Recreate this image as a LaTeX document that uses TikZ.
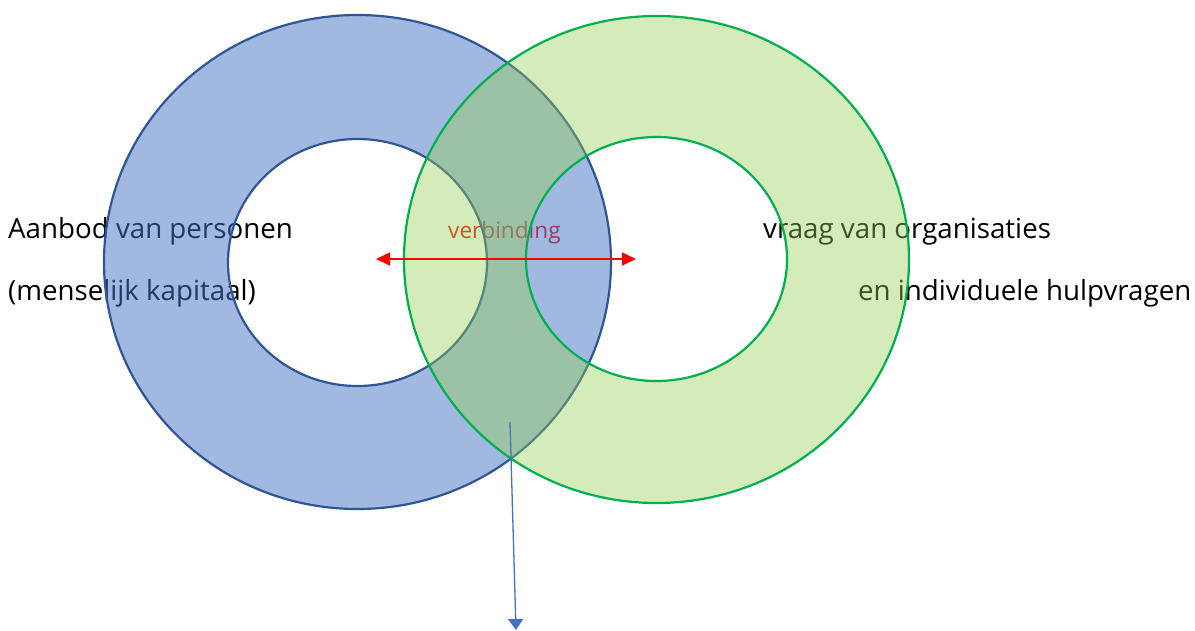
\documentclass[tikz,border=0pt]{standalone}
\usepackage{fontspec}
\setmainfont{Open Sans}
\usetikzlibrary{arrows.meta}
\definecolor{ringblue}{HTML}{4472C4}
\definecolor{ringblueline}{HTML}{2F5597}
\definecolor{ringgreen}{HTML}{92D050}
\definecolor{ringgreenline}{HTML}{00B050}
\definecolor{arrowblue}{HTML}{4472C4}
\tikzset{
  label text/.style={inner sep=0pt, anchor=base west, font=\fontsize{27.7}{32}\selectfont, text=black},
  mid text/.style={inner sep=0pt, anchor=base west, font=\fontsize{22.6}{26}\selectfont, text=red},
  blue ring/.style={fill=ringblue, fill opacity=0.5, even odd rule},
  green ring/.style={fill=ringgreen, fill opacity=0.4, even odd rule},
  blue edge/.style={draw=ringblueline, line width=2.2pt},
  green edge/.style={draw=ringgreenline, line width=2.2pt},
  red link/.style={draw=red, line width=1.6pt, {Triangle[length=14pt,width=13pt]}-{Triangle[length=14pt,width=13pt]}},
  blue link/.style={draw=arrowblue, line width=1.3pt, -{Triangle[length=11pt,width=15pt]}}
}
\begin{document}
\begin{tikzpicture}[x=1pt,y=-1pt]
\useasboundingbox (0,0) rectangle (1195,630);
% texts (under the rings)
\node[label text] (aanbod) at (8,238) {Aanbod van personen};
\node[label text] (kapitaal) at (8,300) {(menselijk kapitaal)};
\node[label text] (vraag) at (763,238) {vraag van organisaties};
\node[label text] (hulp) at (858,300) {en individuele hulpvragen};
\node[mid text] (verb) at (448,238) {verbinding};
% blue ring
\fill[blue ring] (357.5,262) ellipse [x radius=253.5, y radius=247] (357.5,262.5) ellipse [x radius=129.5, y radius=123.5];
\draw[blue edge] (357.5,262) ellipse [x radius=253.5, y radius=247];
\draw[blue edge] (357.5,262.5) ellipse [x radius=129.5, y radius=123.5];
% green ring
\fill[green ring] (656.5,259.5) ellipse [x radius=252.5, y radius=243.5] (656.5,259) ellipse [x radius=130.5, y radius=122];
\draw[green edge] (656.5,259.5) ellipse [x radius=252.5, y radius=243.5];
\draw[green edge] (656.5,259) ellipse [x radius=130.5, y radius=122];
% arrows
\coordinate (redL) at (376,259);
\coordinate (redR) at (636,259);
\draw[red link] (redL) -- (redR);
\coordinate (blueS) at (510,422);
\coordinate (blueE) at (516,630);
\draw[blue link] (blueS) -- (blueE);
\end{tikzpicture}
\end{document}
